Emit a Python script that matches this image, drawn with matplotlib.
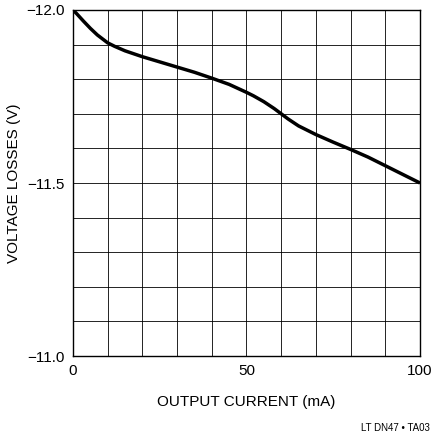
import matplotlib
matplotlib.use("Agg")
import matplotlib.pyplot as plt
import numpy as np

current = [0, 1, 3, 5, 7, 10, 12, 15, 20, 25, 30, 35, 40, 45, 50, 52, 55, 58, 60, 62, 65, 68, 70, 75, 80, 85, 90, 95, 100]
voltage = [-12.0, -11.99, -11.968, -11.947, -11.928, -11.905, -11.895, -11.882, -11.865, -11.85, -11.835, -11.82, -11.803, -11.785, -11.762, -11.752, -11.735, -11.715, -11.70, -11.685, -11.665, -11.65, -11.64, -11.618, -11.597, -11.575, -11.55, -11.525, -11.50]
xticks = [0, 50, 100]
yticks = [-12.0, -11.5, -11.0]
ylabels = ["\u221212.0", "\u221211.5", "\u221211.0"]

plt.rcParams['font.family'] = ['Liberation Sans', 'DejaVu Sans']
fig = plt.figure(figsize=(4.35, 4.36), dpi=100)
ax = fig.add_axes([73/435, 80/436, 347/435, 346/436])
ax.plot(current, voltage, color='black', lw=2.5, solid_capstyle='butt', solid_joinstyle='round')
ax.set_xlim(0, 100)
ax.set_ylim(-11.0, -12.0)
ax.set_xticks(np.arange(0, 101, 10), minor=True)
ax.set_yticks(np.arange(-12.0, -10.99, 0.1), minor=True)
ax.set_xticks(xticks)
ax.set_xticklabels([str(t) for t in xticks])
ax.set_yticks(yticks)
ax.set_yticklabels(ylabels)
ax.grid(True, which='both', color='black', lw=0.6)
ax.tick_params(which='both', length=0, labelsize=11, pad=6)
for s in ax.spines.values():
    s.set_linewidth(1.0)
ax.set_xlabel("OUTPUT CURRENT (mA)", fontsize=11, labelpad=12)
ax.set_ylabel("VOLTAGE LOSSES (V)", fontsize=11, labelpad=4)
fig.text(430/435, 1-433/436, "LT DN47 \u2022 TA03", ha='right', va='bottom', fontsize=7)
fig.savefig("out.png", dpi=100)
